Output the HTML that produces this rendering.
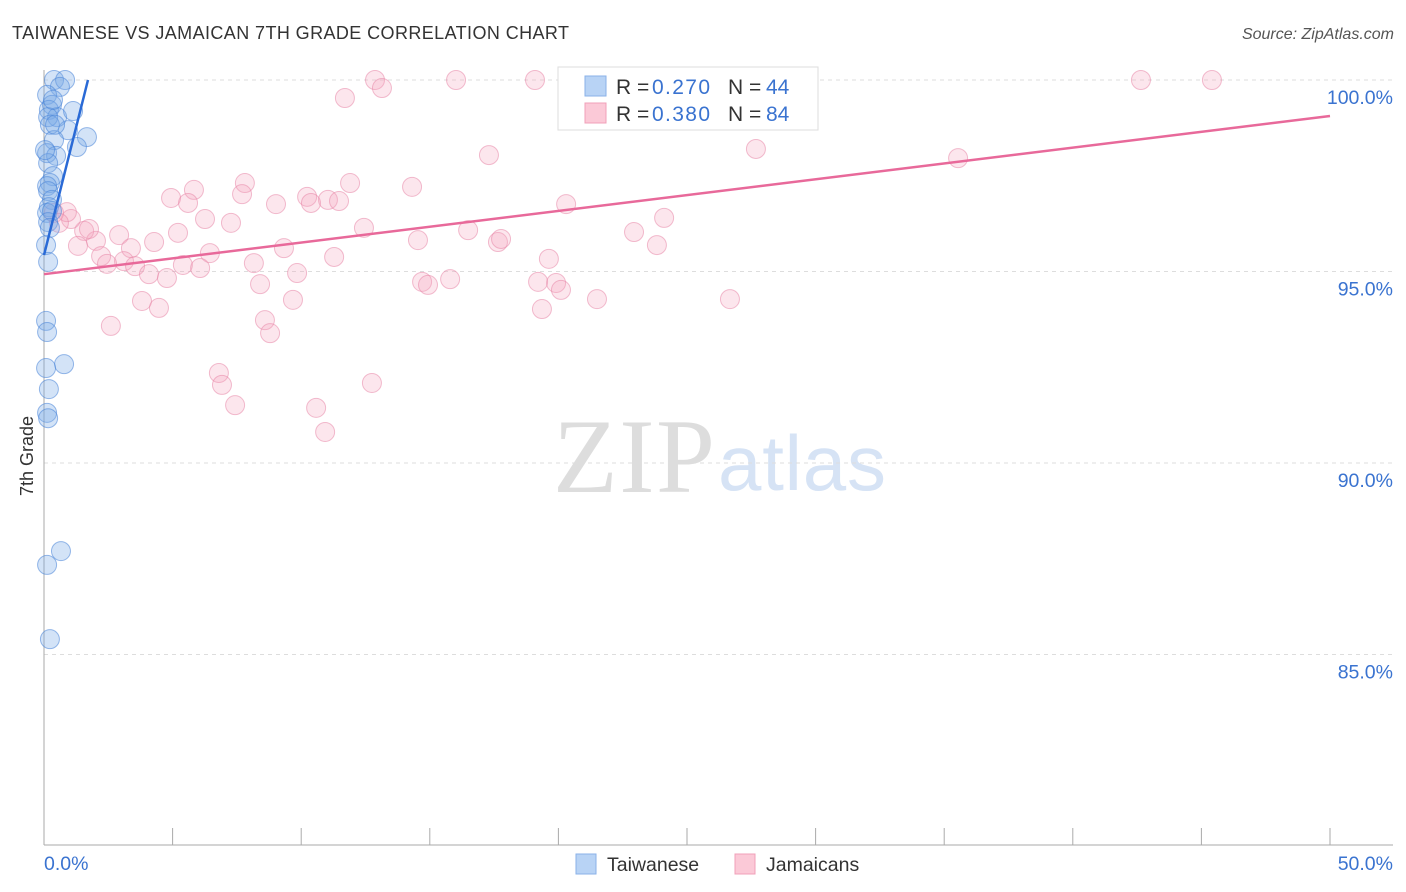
<!DOCTYPE html>
<html><head><meta charset="utf-8"><style>
body{margin:0;background:#fff;font-family:"Liberation Sans",sans-serif;}
svg{display:block}
</style></head><body>
<svg id="chart" width="1406" height="892">
<text x="12" y="39" font-size="18" textLength="557" fill="#333">TAIWANESE VS JAMAICAN 7TH GRADE CORRELATION CHART</text>
<text x="1394" y="39" font-size="16" fill="#555" font-style="italic" text-anchor="end">Source: ZipAtlas.com</text>
<text x="33" y="456" font-size="18" fill="#333" transform="rotate(-90 33 456)" text-anchor="middle">7th Grade</text>
<g>
<text x="553" y="492" font-family="Liberation Serif,serif" font-size="106" textLength="162" fill="#ddd">ZIP</text>
<text x="718" y="490" font-size="78" textLength="168" fill="#d6e3f5">atlas</text>
</g>
<g id="grid"></g>
<g id="axes"></g>
<g id="pts"></g>
<g id="trend"></g>
<g>
<rect x="558" y="67" width="260" height="63" fill="#fff" stroke="#ddd"/>
<rect x="585" y="76" width="21" height="20" fill="#b8d3f5" stroke="#8ab2e8"/>
<text x="616" y="94" font-size="21" fill="#333">R =</text><text x="652" y="94" font-size="21" textLength="58" fill="#3a73d0">0.270</text>
<text x="728" y="94" font-size="21" fill="#333">N =</text><text x="766" y="94" font-size="21" fill="#3a73d0">44</text>
<rect x="585" y="103" width="21" height="20" fill="#fbc9d7" stroke="#f0a0b8"/>
<text x="616" y="121" font-size="21" fill="#333">R =</text><text x="652" y="121" font-size="21" textLength="58" fill="#3a73d0">0.380</text>
<text x="728" y="121" font-size="21" fill="#333">N =</text><text x="766" y="121" font-size="21" fill="#3a73d0">84</text>
</g>
<g>
<rect x="576" y="854" width="20" height="20" fill="#b8d3f5" stroke="#8ab2e8"/>
<text x="607" y="871" font-size="19.5" fill="#333">Taiwanese</text>
<rect x="735" y="854" width="20" height="20" fill="#fbc9d7" stroke="#f0a0b8"/>
<text x="766" y="871" font-size="19.5" fill="#333">Jamaicans</text>
</g>
</svg>
<script>
const yTicks=[100,95,90,85];
const yTickLabels=["100.0%","95.0%","90.0%","85.0%"];
const xTicks=[0,5,10,15,20,25,30,35,40,45,50];
const xEndLabels=["0.0%","50.0%"];
const blueX=[0.39,0.82,0.62,0.12,0.31,0.19,0.51,1.13,0.16,0.23,1.67,1.28,0.93,0.39,0.12,0.47,0.16,0.35,0.23,0.12,0.16,0.31,0.19,0.12,0.31,0.16,0.23,0.08,0.16,0.08,0.12,0.78,0.08,0.19,0.12,0.16,0.66,0.12,0.23,0.35,0.04,0.43];
const blueY=[100,100,99.82,99.61,99.35,99.22,99.03,99.19,99.03,98.83,98.51,98.25,98.69,98.43,98.09,98.02,97.83,97.49,97.31,97.23,97.10,96.87,96.68,96.53,96.58,96.29,96.14,95.69,95.25,93.71,93.42,92.58,92.48,91.93,91.31,91.17,87.70,87.34,85.40,99.48,98.17,98.83];
const pinkX=[12.87,16.02,19.09,26.56,42.65,45.41,11.70,13.14,17.30,27.68,35.54,7.81,5.83,11.90,14.31,4.94,5.60,7.70,10.23,11.04,10.38,11.47,9.02,20.30,6.26,7.27,12.44,16.49,22.94,24.11,17.65,17.77,14.54,23.83,5.21,4.28,2.92,2.02,1.56,1.75,1.05,0.89,0.39,0.58,3.38,1.32,2.22,9.33,11.28,19.63,6.45,3.11,2.45,3.54,5.40,6.07,8.16,4.08,4.78,9.84,8.40,14.70,14.93,15.79,19.21,19.91,20.10,21.50,26.67,3.81,4.47,9.68,19.36,2.60,8.59,8.79,6.80,6.92,12.75,7.43,10.58,10.93];
const pinkY=[100,100,100,100,100,100,99.53,99.79,98.04,98.20,97.96,97.31,97.13,97.31,97.21,96.92,96.79,97.02,96.95,96.87,96.79,96.84,96.76,96.76,96.37,96.27,96.14,96.08,96.03,96.40,95.77,95.85,95.82,95.69,96.01,95.77,95.95,95.80,96.06,96.11,96.37,96.55,96.53,96.27,95.61,95.67,95.40,95.61,95.38,95.33,95.48,95.27,95.20,95.14,95.17,95.09,95.22,94.93,94.83,94.96,94.67,94.73,94.65,94.80,94.73,94.70,94.52,94.28,94.28,94.23,94.05,94.26,94.02,93.58,93.73,93.39,92.35,92.04,92.09,91.51,91.44,90.81];
const blueTrend=[[0,95.43],[1.71,100]];
const pinkTrend=[[0,94.93],[50,99.06]];
const NS="http://www.w3.org/2000/svg";
const xs=v=>44+v/50*1286;
const ys=v=>80+(100-v)*38.3;
function mk(tag,attrs,parent){const e=document.createElementNS(NS,tag);for(const k in attrs)e.setAttribute(k,attrs[k]);document.getElementById(parent).appendChild(e);return e;}
yTicks.forEach((t,i)=>{
 const l=mk('line',{x1:44,x2:1393,y1:ys(t),y2:ys(t),stroke:'#ddd','stroke-dasharray':'4 4'},'grid');
 
 
 const tx=mk('text',{x:1393,y:ys(t)+24,'font-size':19.5,fill:'#3a73d0','text-anchor':'end'},'grid');
 tx.textContent=yTickLabels[i];
 
 
});
let a=mk('line',{x1:44,x2:44,y1:70,y2:845,stroke:'#aaa'},'axes');


a=mk('line',{x1:44,x2:1393,y1:845,y2:845,stroke:'#aaa'},'axes');


xTicks.forEach(t=>{
 const l=mk('line',{x1:xs(t),x2:xs(t),y1:828,y2:845,stroke:'#aaa'},'axes');
 
 
});
let t0=mk('text',{x:44,y:870,'font-size':19.5,fill:'#3a73d0'},'axes');t0.textContent=xEndLabels[0];


let t1=mk('text',{x:1393,y:870,'font-size':19.5,fill:'#3a73d0','text-anchor':'end'},'axes');t1.textContent=xEndLabels[1];


pinkX.forEach((x,i)=>{
 const c=mk('circle',{cx:xs(x),cy:ys(pinkY[i]),r:9.5,fill:'rgba(244,165,192,0.28)',stroke:'rgba(232,135,168,0.55)','stroke-width':1},'pts');
 
 
});
blueX.forEach((x,i)=>{
 const c=mk('circle',{cx:xs(x),cy:ys(blueY[i]),r:9.5,fill:'rgba(120,170,232,0.33)',stroke:'rgba(70,130,215,0.55)','stroke-width':1},'pts');
 
 
});
let bl=mk('line',{x1:xs(blueTrend[0][0]),y1:ys(blueTrend[0][1]),x2:xs(blueTrend[1][0]),y2:ys(blueTrend[1][1]),stroke:'#2a6ad6','stroke-width':2.5},'trend');


let pl=mk('line',{x1:xs(pinkTrend[0][0]),y1:ys(pinkTrend[0][1]),x2:xs(pinkTrend[1][0]),y2:ys(pinkTrend[1][1]),stroke:'#e8699a','stroke-width':2.5},'trend');


</script>
</body></html>
